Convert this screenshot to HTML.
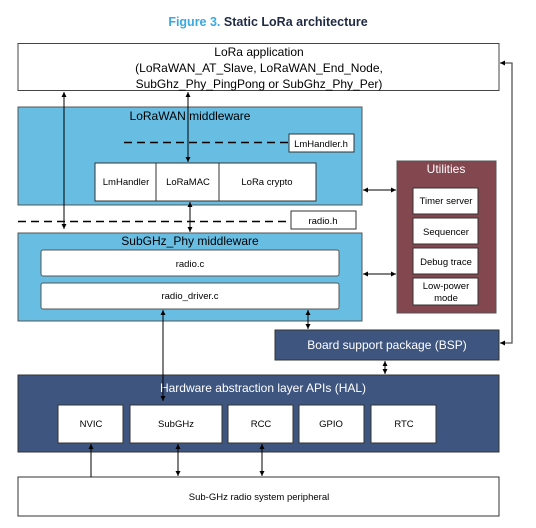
<!DOCTYPE html>
<html><head><style>body{margin:0;background:#fff}svg{display:block}</style></head><body>
<svg width="536" height="528" viewBox="0 0 536 528" xmlns="http://www.w3.org/2000/svg" font-family="Liberation Sans, Arial, sans-serif">
<defs>
<marker id="a" markerWidth="6" markerHeight="6" refX="5" refY="3" orient="auto-start-reverse" markerUnits="userSpaceOnUse"><path d="M0,0.5 L5,3 L0,5.5z" fill="#000"/></marker>
</defs>
<text x="268" y="26" text-anchor="middle" font-size="12.5" font-weight="bold"><tspan fill="#3aa9de">Figure 3. </tspan><tspan fill="#1f2a44">Static LoRa architecture</tspan></text>
<!-- app -->
<rect x="18" y="43.5" width="481" height="47" fill="#fff" stroke="#444"/>
<text x="259" y="56" text-anchor="middle" font-size="12">LoRa application</text>
<text x="259" y="72" text-anchor="middle" font-size="12">(LoRaWAN_AT_Slave, LoRaWAN_End_Node,</text>
<text x="259" y="88" text-anchor="middle" font-size="12">SubGhz_Phy_PingPong or SubGhz_Phy_Per)</text>
<!-- LoRaWAN mw -->
<rect x="18" y="107" width="344" height="98" fill="#68bde3" stroke="#555"/>
<text x="190" y="120" text-anchor="middle" font-size="12">LoRaWAN middleware</text>
<line x1="124" y1="142.5" x2="288" y2="142.5" stroke="#000" stroke-width="1.5" stroke-dasharray="8,5"/>
<rect x="289" y="134" width="65" height="18" fill="#fff" stroke="#333"/>
<text x="321" y="147" text-anchor="middle" font-size="9.5">LmHandler.h</text>
<rect x="95" y="163" width="221" height="38" fill="#fff" stroke="#333"/>
<line x1="156" y1="163" x2="156" y2="201" stroke="#333"/>
<line x1="219" y1="163" x2="219" y2="201" stroke="#333"/>
<text x="126" y="185" text-anchor="middle" font-size="9.5">LmHandler</text>
<text x="188" y="185" text-anchor="middle" font-size="9.5">LoRaMAC</text>
<text x="267" y="185" text-anchor="middle" font-size="9.5">LoRa crypto</text>
<!-- radio.h -->
<line x1="18" y1="221.5" x2="290" y2="221.5" stroke="#000" stroke-width="1.5" stroke-dasharray="8,5"/>
<rect x="291" y="211" width="65" height="18" fill="#fff" stroke="#333"/>
<text x="323" y="224" text-anchor="middle" font-size="9.5">radio.h</text>
<!-- SubGHz mw -->
<rect x="18" y="233" width="344" height="88" fill="#68bde3" stroke="#555"/>
<text x="190" y="245" text-anchor="middle" font-size="12">SubGHz_Phy middleware</text>
<rect x="41" y="250" width="298" height="26" rx="2" fill="#fff" stroke="#555"/>
<text x="190" y="267" text-anchor="middle" font-size="9.5">radio.c</text>
<rect x="41" y="283" width="298" height="26" rx="2" fill="#fff" stroke="#555"/>
<text x="190" y="299" text-anchor="middle" font-size="9.5">radio_driver.c</text>
<!-- Utilities -->
<rect x="397" y="161" width="99" height="152" fill="#83474f" stroke="#555"/>
<text x="446" y="173" text-anchor="middle" font-size="12" fill="#fff">Utilities</text>
<g font-size="9.5" text-anchor="middle">
<rect x="413" y="188" width="65" height="26" fill="#fff" stroke="#333"/><text x="446" y="204">Timer server</text>
<rect x="413" y="218" width="65" height="26" fill="#fff" stroke="#333"/><text x="446" y="235">Sequencer</text>
<rect x="413" y="248" width="65" height="26" fill="#fff" stroke="#333"/><text x="446" y="265">Debug trace</text>
<rect x="413" y="278" width="65" height="27" fill="#fff" stroke="#333"/><text x="446" y="289">Low-power</text><text x="446" y="301">mode</text>
</g>
<!-- BSP -->
<rect x="275" y="330" width="224" height="30" fill="#3e5580" stroke="#333"/>
<text x="387" y="349" text-anchor="middle" font-size="12" fill="#fff">Board support package (BSP)</text>
<!-- HAL -->
<rect x="18" y="375" width="481" height="77" fill="#3e5580" stroke="#333"/>
<text x="263" y="392" text-anchor="middle" font-size="12" fill="#fff">Hardware abstraction layer APIs (HAL)</text>
<g font-size="9.5" text-anchor="middle">
<rect x="58" y="405" width="65" height="38" fill="#fff" stroke="#333"/><text x="91" y="427">NVIC</text>
<rect x="130" y="405" width="92" height="38" fill="#fff" stroke="#333"/><text x="176" y="427">SubGHz</text>
<rect x="228" y="405" width="65" height="38" fill="#fff" stroke="#333"/><text x="261" y="427">RCC</text>
<rect x="299" y="405" width="65" height="38" fill="#fff" stroke="#333"/><text x="331" y="427">GPIO</text>
<rect x="371" y="405" width="65" height="38" fill="#fff" stroke="#333"/><text x="404" y="427">RTC</text>
</g>
<!-- bottom -->
<rect x="18" y="477" width="481" height="39" fill="#fff" stroke="#333"/>
<text x="259" y="500" text-anchor="middle" font-size="9.5">Sub-GHz radio system peripheral</text>
<!-- connectors -->
<g stroke="#000" stroke-width="1" fill="none">
<line x1="64" y1="92" x2="64" y2="229" marker-start="url(#a)" marker-end="url(#a)"/>
<line x1="188" y1="92" x2="188" y2="162" marker-start="url(#a)" marker-end="url(#a)"/>
<line x1="190" y1="202" x2="190" y2="232" marker-start="url(#a)" marker-end="url(#a)"/>
<line x1="363" y1="190" x2="396" y2="190" marker-start="url(#a)" marker-end="url(#a)"/>
<line x1="363" y1="274" x2="396" y2="274" marker-start="url(#a)" marker-end="url(#a)"/>
<line x1="163" y1="310" x2="163" y2="401" marker-start="url(#a)" marker-end="url(#a)"/>
<line x1="308" y1="310" x2="308" y2="329" marker-start="url(#a)" marker-end="url(#a)"/>
<line x1="385" y1="361" x2="385" y2="374" marker-start="url(#a)" marker-end="url(#a)"/>
<line x1="91" y1="477" x2="91" y2="444" marker-end="url(#a)"/>
<line x1="178" y1="444" x2="178" y2="476" marker-start="url(#a)" marker-end="url(#a)"/>
<line x1="262" y1="444" x2="262" y2="476" marker-start="url(#a)" marker-end="url(#a)"/>
<polyline points="500,63 512,63 512,343 500,343" stroke="#555" stroke-width="1.3"/>
</g>
<path d="M500,63 l5,-2.5 v5z M500,343 l5,-2.5 v5z" fill="#000"/>
</svg>
</body></html>
